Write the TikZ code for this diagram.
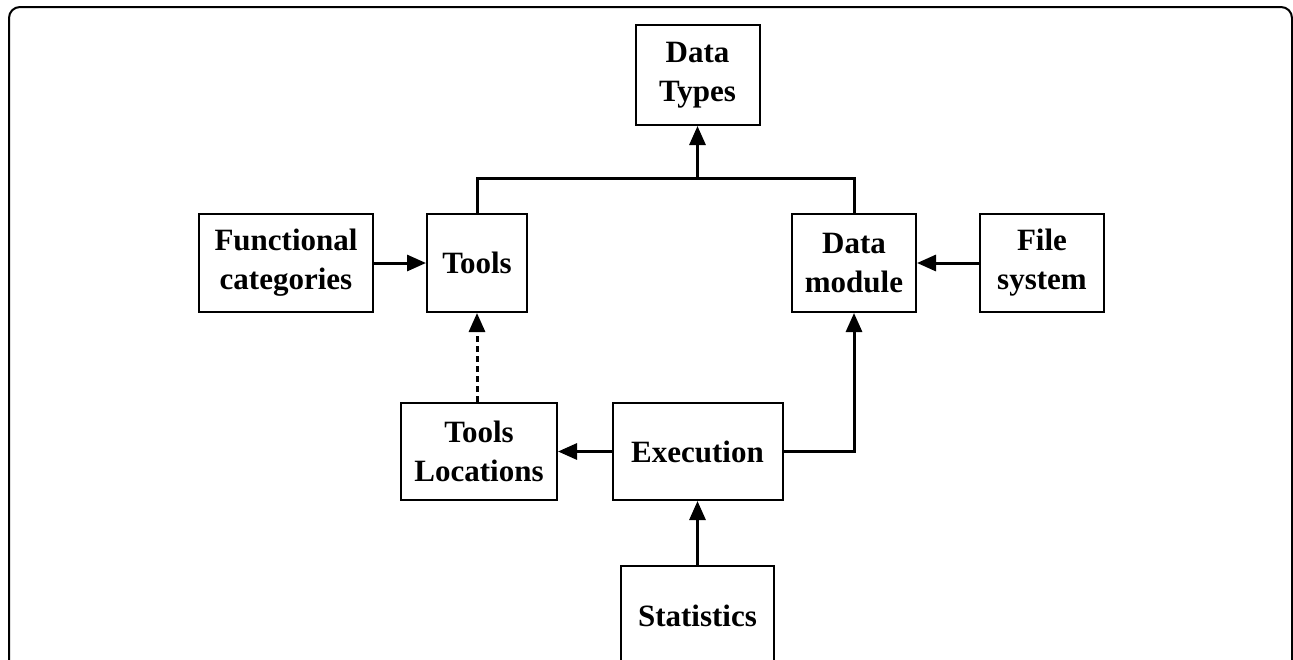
\documentclass[tikz,border=0pt]{standalone}
\usepackage{fontspec}
\setmainfont{Liberation Serif}
\usetikzlibrary{arrows.meta}
\begin{document}
\begin{tikzpicture}[x=1pt,y=-1pt,
  box/.style={draw, line width=2pt, inner sep=0pt, align=center,
    font=\bfseries\fontsize{31}{39}\selectfont},
  conn/.style={line width=3pt},
  arr/.style={conn, -{Triangle[length=19pt,width=16pt]}},
  dashconn/.style={arr, dash pattern=on 6pt off 4pt}
]
\clip (0,0) rectangle (1293,659);
\fill[white] (0,0) rectangle (1293,659);
\draw[line width=2pt, rounded corners=11pt] (9,720) -- (9,7) -- (1292,7) -- (1292,720);

\node[box, minimum width=124pt, minimum height=100pt] (types) at (697.5,75) {Data\\Types};
\node[box, minimum width=174pt, minimum height=98pt] (func) at (286,263) {Functional\\categories};
\node[box, minimum width=100pt, minimum height=98pt] (tools) at (477,263) {Tools};
\node[box, minimum width=124pt, minimum height=98pt] (dmod) at (854,263) {Data\\module};
\node[box, minimum width=124pt, minimum height=98pt] (fsys) at (1042,263) {File\\system};
\node[box, minimum width=156pt, minimum height=97pt] (tloc) at (479,451.5) {Tools\\Locations};
\node[box, minimum width=170pt, minimum height=97pt] (exec) at (697.5,451.5) {Execution};
\node[box, minimum width=153pt, minimum height=100pt] (stats) at (697.5,616) {Statistics};

\coordinate (barl) at (477,178);
\coordinate (barr) at (854,178);
\coordinate (barm) at (697.5,178);
\coordinate (exr) at (854,451.5);

\draw[conn] (tools.north) -- (barl) -- (barr) -- (dmod.north);
\draw[arr] (barm) -- (types.south);
\draw[arr] (func.east) -- (tools.west);
\draw[arr] (fsys.west) -- (dmod.east);
\draw[dashconn] (tloc.north -| tools.south) -- (tools.south);
\draw[arr] (exec.west) -- (tloc.east);
\draw[arr] (exec.east) -- (exr) -- (dmod.south);
\draw[arr] (stats.north) -- (exec.south);
\end{tikzpicture}
\end{document}
